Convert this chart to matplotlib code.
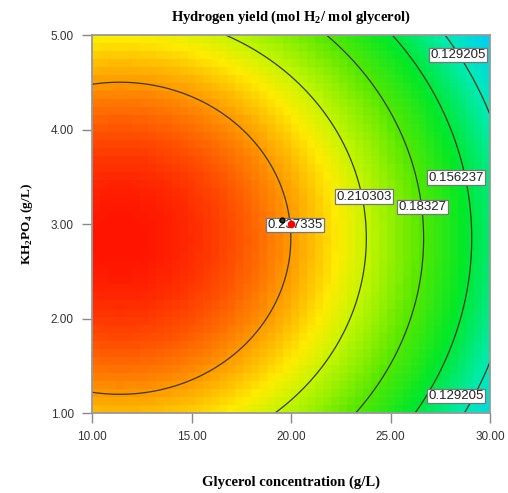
import numpy as np
import matplotlib
matplotlib.use("Agg")
import matplotlib.pyplot as plt
from matplotlib.colors import LinearSegmentedColormap, Normalize

plt.rcParams["mathtext.fontset"] = "custom"
plt.rcParams["mathtext.rm"] = "Liberation Serif:bold"
plt.rcParams["mathtext.bf"] = "Liberation Serif:bold"

# fitted quadratic response surface (yield vs glycerol and KH2PO4)
b0 = 0.2624          # predicted optimum yield
glycerol_opt = 11.4  # g/L
kh2po4_opt = 2.85    # g/L
b_glycerol = 0.00034
b_kh2po4 = 0.0092

glycerol_range = [10.0, 30.0]
kh2po4_range = [1.0, 5.0]

contour_levels = [0.129205, 0.156237, 0.18327, 0.210303, 0.237335]
label_values = [0.237335, 0.210303, 0.18327, 0.156237, 0.129205, 0.129205]
label_pos = [(20.2, 2.99), (23.65, 3.29), (26.6, 3.18), (28.3, 3.49), (28.4, 4.79), (28.3, 1.18)]

design_glycerol = [20.0]
design_kh2po4 = [3.0]

x_ticks = [10, 15, 20, 25, 30]
y_ticks = [1, 2, 3, 4, 5]


def predicted_yield(g, k):
    return b0 - b_glycerol * (g - glycerol_opt) ** 2 - b_kh2po4 * (k - kh2po4_opt) ** 2


# colour ramp blue-green-yellow-red
stops = [(0.100, (0, 200, 255)), (0.130, (0, 235, 180)), (0.160, (0, 232, 40)),
         (0.185, (85, 232, 0)), (0.210, (195, 245, 0)), (0.222, (255, 235, 0)),
         (0.238, (255, 150, 0)), (0.2624, (255, 20, 0))]
vmin, vmax = stops[0][0], stops[-1][0]
cmap = LinearSegmentedColormap.from_list(
    "de", [((v - vmin) / (vmax - vmin), tuple(c / 255 for c in rgb)) for v, rgb in stops])
norm = Normalize(vmin, vmax)

fig = plt.figure(figsize=(5.08, 4.93), dpi=100)
ax = fig.add_axes([0.181, 0.162, 0.784, 0.767])

# coarse colour cells
ge = np.linspace(*glycerol_range, 51)
ke = np.linspace(*kh2po4_range, 48)
gc = (ge[:-1] + ge[1:]) / 2
kc = (ke[:-1] + ke[1:]) / 2
G, K = np.meshgrid(gc, kc)
ax.pcolormesh(ge, ke, predicted_yield(G, K), cmap=cmap, norm=norm, shading="flat")

# smooth contour lines
gf = np.linspace(*glycerol_range, 400)
kf = np.linspace(*kh2po4_range, 400)
GF, KF = np.meshgrid(gf, kf)
ax.contour(GF, KF, predicted_yield(GF, KF), levels=contour_levels,
           colors="#3a3a1a", linewidths=0.9)

for val, (x, y) in zip(label_values, label_pos):
    ax.text(x, y, f"{val:g}", ha="center", va="center", fontsize=9.5,
            family="Liberation Sans", color="#222222",
            bbox=dict(boxstyle="square,pad=0.1", fc="white", ec="#777777", lw=0.9))

ax.plot(design_glycerol, design_kh2po4, "o", color="red", ms=4.5, zorder=5)
ax.plot([d - 0.45 for d in design_glycerol], [d + 0.04 for d in design_kh2po4], "o",
        mfc="#204020", mec="black", ms=3.5, zorder=5)

ax.set_xlim(glycerol_range)
ax.set_ylim(kh2po4_range)
ax.set_xticks(x_ticks)
ax.set_yticks(y_ticks)
ax.set_xticklabels([f"{t:.2f}" for t in x_ticks])
ax.set_yticklabels([f"{t:.2f}" for t in y_ticks])
ax.tick_params(direction="out", length=7, width=1, color="#888888",
               labelsize=8.5, labelcolor="#333333", pad=6)
for lab in ax.get_xticklabels() + ax.get_yticklabels():
    lab.set_family("Liberation Sans")
for sp in ax.spines.values():
    sp.set_color("#999999")
    sp.set_linewidth(1.3)

ax.set_title(r"Hydrogen yield (mol H$_\mathbf{2}$/ mol glycerol)", family="Liberation Serif",
             fontweight="bold", fontsize=10.5, pad=10)
ax.set_xlabel("Glycerol concentration (g/L)", family="Liberation Serif",
              fontweight="bold", fontsize=10.5, labelpad=23)
ax.set_ylabel(r"KH$_\mathbf{2}$PO$_\mathbf{4}$ (g/L)", family="Liberation Serif",
              fontweight="bold", fontsize=9.5, labelpad=11)

fig.savefig("out.png", dpi=100)
